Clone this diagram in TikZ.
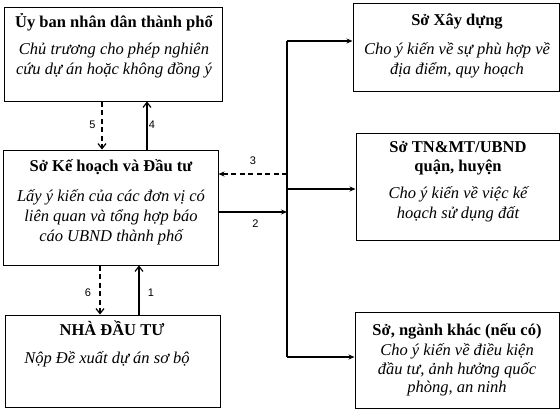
\documentclass[tikz,border=0pt]{standalone}
\usepackage{fontspec}
\setmainfont{Liberation Serif}
\newfontfamily\numfont{Liberation Sans}
\usetikzlibrary{arrows.meta,calc}
\begin{document}
\begin{tikzpicture}[x=1pt,y=-1pt,
 box/.style={draw, line width=1pt, inner sep=0pt},
 ttl/.style={anchor=base, align=center, font=\fontsize{16.5}{19.5}\selectfont\bfseries, inner sep=0pt},
 body/.style={anchor=base, align=center, font=\fontsize{16.5}{20}\selectfont\itshape, inner sep=0pt},
 num/.style={font=\numfont\fontsize{11}{13}\selectfont, inner sep=0pt},
 sarrow/.style={line width=1.2pt, -{Straight Barb[length=5pt,width=8pt]}},
 darrow/.style={sarrow, dash pattern=on 5pt off 3.5pt},
 harrow/.style={line width=1.2pt, -{Stealth[length=6pt,width=5pt]}},
 trunkline/.style={line width=1.2pt},
]
\useasboundingbox (0,0) rectangle (560,413);
\fill[white] (0,0) rectangle (560,413);

% boxes
\node[box, minimum width=218pt, minimum height=94pt] (ub) at (113,54) {};
\node[box, minimum width=215pt, minimum height=115pt] (kh) at (110.5,207.5) {};
\node[box, minimum width=215pt, minimum height=92pt] (nd) at (112.5,361) {};
\node[box, minimum width=206pt, minimum height=88pt] (xd) at (456,47) {};
\node[box, minimum width=203pt, minimum height=107pt] (tn) at (457.5,186.5) {};
\node[box, minimum width=204pt, minimum height=96pt] (sk) at (457,360) {};

% texts (base anchor = baseline of the last line)
\node[ttl] (ubT) at (114,27) {Ủy ban nhân dân thành phố};
\node[body] (ubB) at (114,74.5) {Chủ trương cho phép nghiên\\cứu dự án hoặc không đồng ý};

\node[ttl] (khT) at (111,171) {Sở Kế hoạch và Đầu tư};
\node[body] (khB) at (111,241.5) {Lấy ý kiến của các đơn vị có\\liên quan và tổng hợp báo\\cáo UBND thành phố};

\node[ttl] (ndT) at (112,335) {NHÀ ĐẦU TƯ};
\node[body] (ndB) at (107,363) {Nộp Đề xuất dự án sơ bộ};

\node[ttl] (xdT) at (457,25) {Sở Xây dựng};
\node[body] (xdB) at (457,74.5) {Cho ý kiến về sự phù hợp về\\địa điểm, quy hoạch};

\node[ttl] (tnT) at (458,171.5) {Sở TN\&MT/UBND\\quận, huyện};
\node[body] (tnB) at (458,218) {Cho ý kiến về việc kế\\hoạch sử dụng đất};

\node[ttl] (skT) at (457,335) {Sở, ngành khác (nếu có)};
\node[body, font=\fontsize{16.5}{18.5}\selectfont\itshape] (skB) at (457,392.5) {Cho ý kiến về điều kiện\\đầu tư, ảnh hưởng quốc\\phòng, an ninh};

% helper coordinates
\coordinate (x5) at (102,0);
\coordinate (x4) at (147,0);
\coordinate (x6) at (100,0);
\coordinate (x1) at (139,0);
\coordinate (trunk) at (287,0);
\coordinate (y2) at (0,212);
\coordinate (y3) at (0,174);
\coordinate (yx) at (0,41);
\coordinate (yt) at (0,189);
\coordinate (ys) at (0,357);

% vertical connectors
\draw[darrow] (ub.south -| x5) -- (kh.north -| x5);
\draw[sarrow] (kh.north -| x4) -- (ub.south -| x4);
\draw[darrow] (kh.south -| x6) -- (nd.north -| x6);
\draw[sarrow] (nd.north -| x1) -- (kh.south -| x1);

% right side
\draw[trunkline] (trunk |- yx) -- (trunk |- ys);
\draw[harrow] (trunk |- yx) -- (xd.west |- yx);
\draw[harrow] (trunk |- yt) -- (tn.west |- yt);
\draw[harrow] (trunk |- ys) -- (sk.west |- ys);
\draw[harrow] (kh.east |- y2) -- (trunk |- y2);
\draw[darrow, -{Stealth[length=6pt,width=5pt]}] (trunk |- y3) -- (kh.east |- y3);

% numbers
\node[num] (n5) at (92.5,124.5) {5};
\node[num] (n4) at (152,124.5) {4};
\node[num] (n3) at (253,161) {3};
\node[num] (n2) at (255.5,223.5) {2};
\node[num] (n6) at (88,293) {6};
\node[num] (n1) at (151,293) {1};
\end{tikzpicture}
\end{document}
